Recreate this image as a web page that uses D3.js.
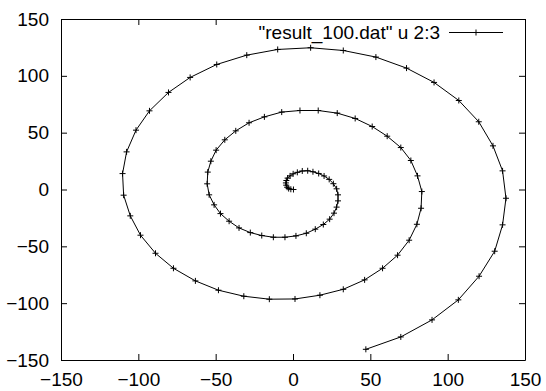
<!DOCTYPE html>
<html>
<head>
<meta charset="utf-8">
<script src="https://cdn.jsdelivr.net/npm/d3@7"></script>
<style>
  html, body { margin: 0; padding: 0; background: #fff; }
  svg { display: block; }
  text { font-family: "Liberation Sans", Arial, Helvetica, sans-serif; fill: #000; }
</style>
</head>
<body>
<svg id="chart" width="546" height="391"></svg>
<script>
// Column 2 and column 3 of result_100.dat (100 samples along the spiral)
const xValues = [
  0.3, -1.4, -2.8, -3.8, -4.4, -4.6, -4.3, -3.5, -1.9, 0.1,
  2.8, 6.0, 9.5, 12.9, 16.6, 20.1, 23.4, 26.1, 28.2, 29.1,
  29.1, 28.2, 26.5, 23.7, 19.6, 14.4, 8.6, 1.9, -5.2, -12.7,
  -20.2, -27.6, -34.9, -41.3, -46.9, -51.0, -54.2, -55.5, -55.1, -53.1,
  -49.7, -44.1, -37.0, -28.4, -18.5, -7.3, 4.5, 16.3, 28.6, 40.2,
  51.2, 60.9, 69.7, 76.2, 80.5, 83.3, 82.8, 80.1, 75.1, 67.6,
  57.9, 46.3, 32.5, 17.4, 1.3, -15.3, -31.8, -48.2, -63.1, -77.3,
  -88.9, -98.6, -105.2, -109.5, -110.2, -107.6, -101.5, -92.8, -80.5, -66.5,
  -49.3, -29.9, -9.9, 11.4, 32.5, 53.6, 73.4, 91.2, 107.2, 120.1,
  129.3, 135.5, 137.7, 135.5, 130.4, 120.3, 106.9, 89.9, 69.7, 47.1
];
const yValues = [
  0.0, 0.2, 0.8, 2.0, 3.8, 5.8, 7.9, 10.0, 12.0, 13.8,
  15.1, 16.3, 16.5, 15.6, 14.1, 11.9, 8.9, 5.1, 0.6, -4.7,
  -10.0, -15.5, -20.8, -26.1, -30.8, -34.9, -38.5, -40.8, -42.0, -42.0,
  -40.5, -37.9, -33.8, -27.9, -21.2, -13.5, -4.7, 5.0, 15.3, 24.9,
  34.6, 43.7, 51.6, 58.7, 63.9, 68.1, 69.5, 69.5, 67.2, 62.5,
  55.4, 46.9, 36.9, 25.5, 12.0, -1.8, -16.5, -30.6, -44.6, -57.8,
  -69.3, -79.5, -87.8, -93.0, -96.3, -96.5, -93.9, -88.6, -80.4, -69.3,
  -56.1, -40.2, -23.2, -5.0, 14.0, 33.1, 52.2, 69.2, 85.4, 98.6,
  110.0, 118.2, 123.2, 124.7, 122.3, 116.5, 106.8, 94.2, 78.3, 59.6,
  38.4, 16.4, -7.7, -31.1, -54.3, -76.3, -97.1, -114.7, -129.7, -140.6
];
const xTicks = [-150, -100, -50, 0, 50, 100, 150];
const yTicks = [-150, -100, -50, 0, 50, 100, 150];
const seriesLabel = '"result_100.dat" u 2:3';

const points = xValues.map((v, i) => [v, yValues[i]]);

const svg = d3.select("#chart");
const plotLeft = 61, plotRight = 525, plotTop = 19, plotBottom = 360;
const fontSize = 19, tickLen = 6;

const x = d3.scaleLinear().domain([-150, 150]).range([plotLeft, plotRight]);
const y = d3.scaleLinear().domain([-150, 150]).range([plotBottom, plotTop]);

function styleAxis(g) {
  g.selectAll("path.domain").attr("stroke", "#000").attr("stroke-width", 1);
  g.selectAll(".tick line").attr("stroke", "#000").attr("stroke-width", 1);
  g.selectAll(".tick text")
    .attr("font-size", fontSize)
    .attr("font-family", '"Liberation Sans", Arial, sans-serif')
    .attr("fill", "#000");
}

// bottom axis with labels, ticks pointing into the plot
svg.append("g")
  .attr("transform", `translate(0,${plotBottom})`)
  .call(d3.axisBottom(x).tickValues(xTicks).tickSizeInner(-tickLen).tickSizeOuter(0).tickPadding(13))
  .call(styleAxis);

// left axis with labels
svg.append("g")
  .attr("transform", `translate(${plotLeft},0)`)
  .call(d3.axisLeft(y).tickValues(yTicks).tickSizeInner(-tickLen).tickSizeOuter(0).tickPadding(12))
  .call(styleAxis);

// mirrored ticks on top and right border
svg.append("g")
  .attr("transform", `translate(0,${plotTop})`)
  .call(d3.axisTop(x).tickValues(xTicks).tickFormat("").tickSizeInner(-tickLen).tickSizeOuter(0))
  .call(styleAxis);

svg.append("g")
  .attr("transform", `translate(${plotRight},0)`)
  .call(d3.axisRight(y).tickValues(yTicks).tickFormat("").tickSizeInner(-tickLen).tickSizeOuter(0))
  .call(styleAxis);

// opaque key box
const key = svg.append("g");
key.append("rect")
  .attr("x", 250).attr("y", plotTop + 1)
  .attr("width", plotRight - 250 - 1).attr("height", 24)
  .attr("fill", "#fff");

const keyY = 32.5;
key.append("text")
  .attr("x", 440).attr("y", keyY)
  .attr("dy", "0.35em")
  .attr("text-anchor", "end")
  .attr("font-size", fontSize)
  .text(seriesLabel);
key.append("line")
  .attr("x1", 449).attr("x2", 503)
  .attr("y1", keyY).attr("y2", keyY)
  .attr("stroke", "#000").attr("stroke-width", 1);

const plus = (cx, cy, s) => `M${cx - s},${cy}h${2 * s}M${cx},${cy - s}v${2 * s}`;
key.append("path")
  .attr("d", plus(476, keyY, 3))
  .attr("stroke", "#000").attr("fill", "none");

// the trajectory
const line = d3.line().x(d => x(d[0])).y(d => y(d[1]));
svg.append("path")
  .datum(points)
  .attr("d", line)
  .attr("fill", "none")
  .attr("stroke", "#000")
  .attr("stroke-width", 1);

svg.append("g")
  .selectAll("path")
  .data(points)
  .join("path")
  .attr("d", d => plus(x(d[0]), y(d[1]), 3))
  .attr("stroke", "#000")
  .attr("stroke-width", 1)
  .attr("fill", "none");
</script>
</body>
</html>
